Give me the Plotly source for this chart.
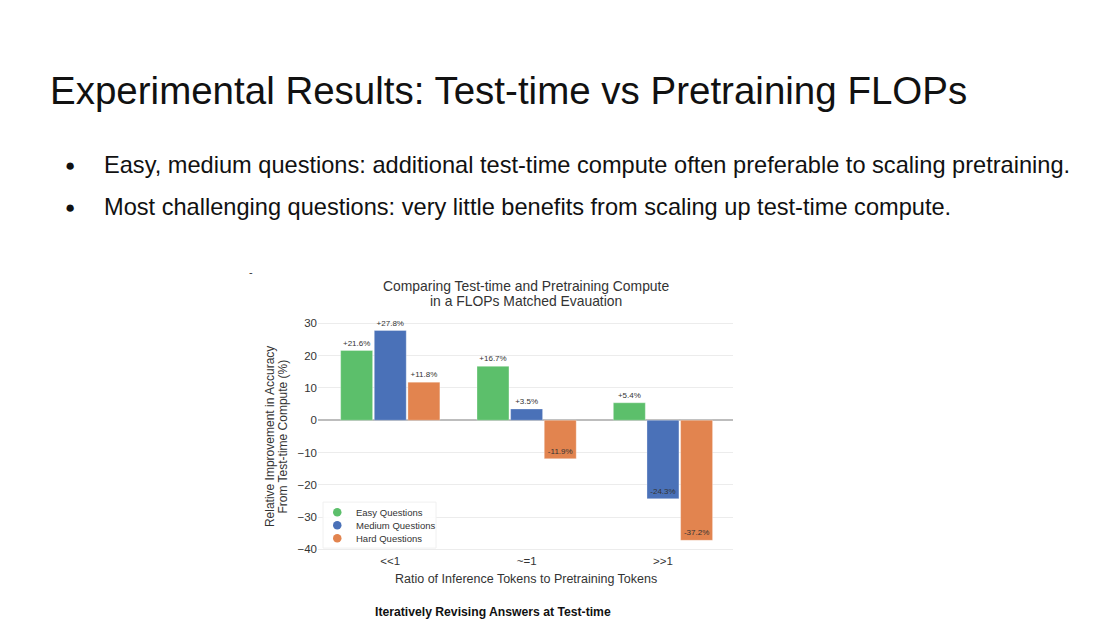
import plotly.graph_objects as go

categories = ["<<1", "~=1", ">>1"]
easy = [21.6, 16.7, 5.4]
medium = [27.8, 3.5, -24.3]
hard = [11.8, -11.9, -37.2]
series_names = ["Easy Questions", "Medium Questions", "Hard Questions"]
y_ticks = [-40, -30, -20, -10, 0, 10, 20, 30]

colors = ["#5cbf6b", "#4a71b8", "#e2844f"]
FONT = "Liberation Sans, Arial, sans-serif"
W, H, OFF = 1100, 619, 8  # page body margin offsets the figure
SY = 0.9935                # small vertical correction observed in the capture


def px(x):
    return (x - OFF) / W


def py(y):
    return 1 - (y / SY - OFF) / H


fig = go.Figure()
for name, vals, col in zip(series_names, [easy, medium, hard], colors):
    texts = [("+" if v >= 0 else "") + f"{v:.1f}%" for v in vals]
    fig.add_trace(go.Bar(
        x=categories, y=vals, name=name,
        marker=dict(color=col, line=dict(color="rgba(255,255,255,0.6)", width=0.5)),
        text=texts,
        textposition=["outside" if v >= 0 else "inside" for v in vals],
        insidetextanchor="end",
        textfont=dict(size=8, color="#333333", family=FONT),
        insidetextfont=dict(size=8, color="#333333", family=FONT),
        outsidetextfont=dict(size=8, color="#333333", family=FONT),
        cliponaxis=False, showlegend=False,
        constraintext="none",
    ))

annotations = [
    dict(text="Experimental Results: Test-time vs Pretraining FLOPs", x=px(48), y=py(89),
         xanchor="left", yanchor="middle", font=dict(size=38.5, color="#111111", family=FONT)),
    dict(text="●", x=px(70), y=py(164), xanchor="center", yanchor="middle",
         font=dict(size=17, color="#111111", family=FONT)),
    dict(text="Easy, medium questions: additional test-time compute often preferable to scaling pretraining.",
         x=px(102), y=py(164), xanchor="left", yanchor="middle",
         font=dict(size=23.6, color="#111111", family=FONT)),
    dict(text="●", x=px(70), y=py(206), xanchor="center", yanchor="middle",
         font=dict(size=17, color="#111111", family=FONT)),
    dict(text="Most challenging questions: very little benefits from scaling up test-time compute.",
         x=px(102), y=py(206), xanchor="left", yanchor="middle",
         font=dict(size=23.6, color="#111111", family=FONT)),
    dict(text="-", x=px(251), y=py(271), xanchor="center", yanchor="middle",
         font=dict(size=11, color="#333333", family=FONT)),
    dict(text="Comparing Test-time and Pretraining Compute",
         x=px(526), y=py(285), xanchor="center", yanchor="middle",
         font=dict(size=13.9, color="#333333", family=FONT)),
    dict(text="in a FLOPs Matched Evauation",
         x=px(526), y=py(299.5), xanchor="center", yanchor="middle",
         font=dict(size=13.9, color="#333333", family=FONT)),
    dict(text="Relative Improvement in Accuracy",
         x=px(270), y=py(436), xanchor="center", yanchor="middle", textangle=-90,
         font=dict(size=12, color="#333333", family=FONT)),
    dict(text="From Test-time Compute (%)",
         x=px(283.5), y=py(436), xanchor="center", yanchor="middle", textangle=-90,
         font=dict(size=12, color="#333333", family=FONT)),
    dict(text="Ratio of Inference Tokens to Pretraining Tokens",
         x=px(526), y=py(578), xanchor="center", yanchor="middle",
         font=dict(size=12.5, color="#333333", family=FONT)),
    dict(text="<b>Iteratively Revising Answers at Test-time</b>",
         x=px(493), y=py(611), xanchor="center", yanchor="middle",
         font=dict(size=12.2, color="#111111", family=FONT)),
]

shapes = [dict(type="rect", xref="paper", yref="paper",
               x0=px(323), x1=px(436), y0=py(547), y1=py(501),
               line=dict(color="#f0f0f0", width=1), fillcolor="rgba(255,255,255,0.9)",
               layer="above")]

# legend drawn as circle swatches + text rows (compact spacing like the reference)
for i, (name, col) in enumerate(zip(series_names, colors)):
    yy = 511 + 13 * i
    shapes.append(dict(type="circle", xref="paper", yref="paper",
                       x0=px(333), x1=px(341.5), y0=py(yy + 4.5), y1=py(yy - 4),
                       line=dict(width=0), fillcolor=col, layer="above"))
    annotations.append(dict(text=name, x=px(354), y=py(yy), xanchor="left", yanchor="middle",
                            font=dict(size=9.5, color="#333333", family=FONT)))

for a in annotations:
    a.update(xref="paper", yref="paper", showarrow=False)

fig.update_layout(
    width=W, height=H,
    margin=dict(l=0, r=0, t=0, b=0),
    paper_bgcolor="white", plot_bgcolor="white",
    font=dict(family=FONT, color="#333333"),
    barmode="group", bargap=0.26, bargroupgap=0.05,
    showlegend=False,
    xaxis=dict(domain=[px(318), px(732.5)], range=[-0.53, 2.51],
               showgrid=False, showline=False, ticks="",
               tickfont=dict(size=11.5, color="#333333")),
    yaxis=dict(domain=[py(551.5), py(317.5)], range=[-41, 31.5],
               tickvals=y_ticks, showgrid=True, gridcolor="#ececec", gridwidth=1,
               zeroline=True, zerolinecolor="#bdbdbd", zerolinewidth=1.5,
               showline=False, ticks="", tickfont=dict(size=11.5, color="#333333")),
    shapes=shapes,
    annotations=annotations,
)

fig.write_html("out.html", config={"displayModeBar": False})
